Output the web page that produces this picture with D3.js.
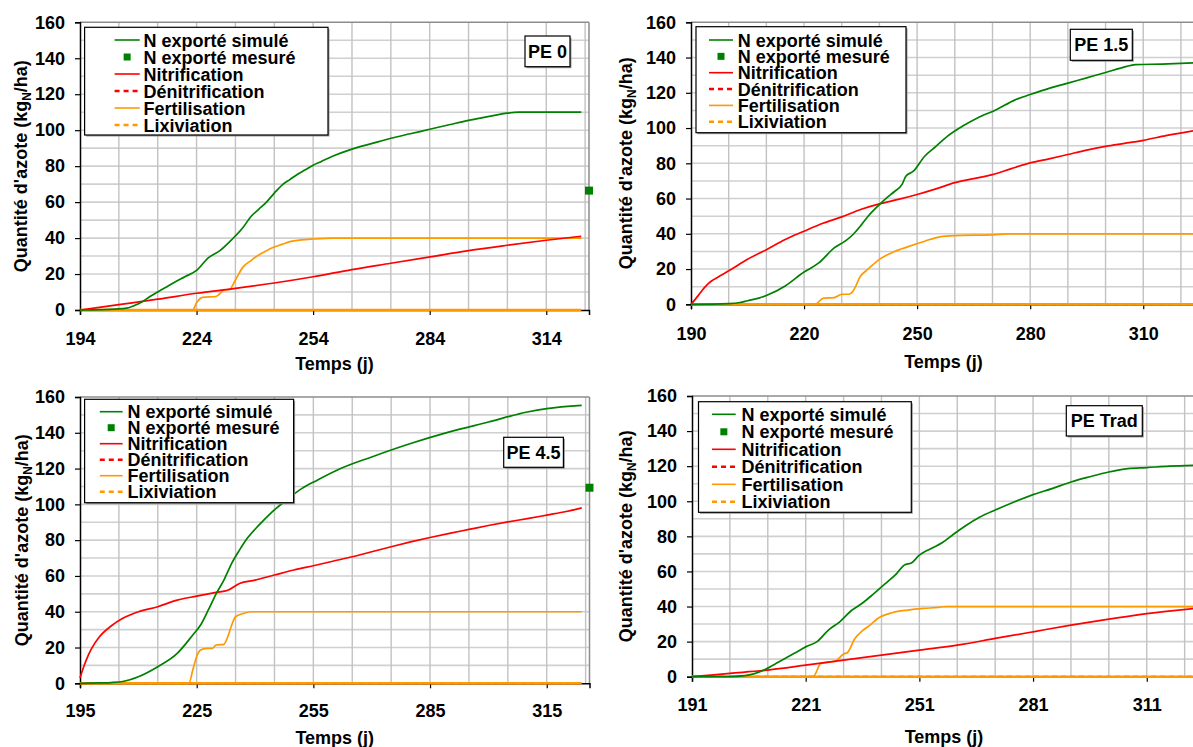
<!DOCTYPE html>
<html><head><meta charset="utf-8">
<script src="https://cdn.jsdelivr.net/npm/d3@7"></script>
<style>
body{margin:0;background:#fff}
svg{display:block}
text{font-family:"Liberation Sans",Arial,sans-serif;font-weight:bold;fill:#000}
</style></head>
<body><svg id="c" width="1193" height="747"></svg>
<script>
// ---------------- DATA ----------------
const panelNames = ["PE 0", "PE 1.5", "PE 4.5", "PE Trad"];
const xDomains = [[194, 325], [190, 324], [195, 326], [191, 324]];
const xTicks = [[194, 224, 254, 284, 314], [190, 220, 250, 280, 310], [195, 225, 255, 285, 315], [191, 221, 251, 281, 311]];
const yTicks = [0, 20, 40, 60, 80, 100, 120, 140, 160];
const legendLabels = ["N exporté simulé", "N exporté mesuré", "Nitrification", "Dénitrification", "Fertilisation", "Lixiviation"];
const yTitle = "Quantité d'azote (kg";
const xTitle = "Temps (j)";

// N exporté simulé [jour, kgN/ha]
const pe0Simule = [[194,0],[200,0.2],[203,0.5],[206,1],[208,2.5],[210,4.6],[212,7.5],[214,10],[216,12.5],[218,15],[221,18.5],[224,22],[227,29],[230,33],[233,39],[236,46],[238,52],[240,56],[242,60],[244,65],[246,69.5],[248,72.5],[250,75.5],[252,78],[254,80.5],[256,82.5],[259,85.5],[264,89.5],[269,92.5],[274,95.5],[279,98],[284,100.5],[289,103],[294,105.5],[299,107.5],[304,109.5],[307,110],[315,110],[323,110]];
const pe15Simule = [[190,0],[200,0.4],[203,1],[205,2],[208,3.5],[210,5],[215,10.4],[220,18.3],[224,23.6],[228,32],[231,36],[233,39.6],[235,44.5],[237,50],[240,56.6],[242,60.5],[244,64],[246,68],[247,72.6],[249,75.5],[252,84],[255,89.6],[258,95.3],[262,101],[266,105.7],[271,110.4],[276,116],[280,119],[285,122.5],[290,125.5],[295,128.5],[300,131.5],[304,134],[308,136],[315,136.3],[324,137]];
const pe45Simule = [[195,0],[200,0.2],[203,0.4],[206,1],[210,3.7],[215,9.3],[220,16.7],[224,27],[226,32.6],[228,41],[230,50],[232,57.7],[234,67],[236,74.4],[238,81],[241,88.4],[244,95],[248,102.3],[252,108.8],[256,113.5],[262,120],[270,126.5],[280,134],[290,140.5],[300,146],[310,151.6],[315,153.5],[324,155.3]];
const peTradSimule = [[191,0],[201,0.1],[205,0.6],[210,3.8],[214,8.5],[218,13.3],[221,17],[224,20],[227,26.6],[230,31.3],[233,37.6],[236,42],[239,47.4],[242,53],[245,58.8],[247,63.6],[249,65],[251,69.3],[254,73],[257,76.3],[260,81.2],[263,85.8],[267,91],[271,95],[276,99.6],[281,103.8],[286,107.2],[291,111],[296,114],[301,116.7],[306,118.6],[311,119.2],[317,120],[324,120.5]];

// N exporté mesuré
const mesureJour = [325, null, 326, null];
const mesureValeur = [66.4, null, 109.3, null];

// Nitrification
const pe0Nitrif = [[194,0],[204,3],[214,6],[224,9.3],[234,12],[244,15],[254,18.5],[264,22.5],[274,26],[284,29.5],[294,33],[304,36],[314,38.8],[323,41]];
const pe15Nitrif = [[190,0],[191,2.5],[192,5.2],[193,8],[194,10.5],[195,12.5],[196,14],[198,16.5],[200,19],[205,25.5],[210,31],[215,36.8],[220,41.5],[225,46],[230,49.6],[235,53.8],[240,57],[245,59.5],[250,62.3],[255,65.5],[260,69],[265,71.3],[270,73.6],[275,77],[280,80.2],[285,82.5],[290,85],[295,87.5],[300,89.6],[305,91.3],[310,93],[316,95.7],[324,98.7]];
const pe45Nitrif = [[195,3],[196,9.5],[197,15],[198,19.5],[200,26],[203,32],[206,36.3],[210,40],[215,42.8],[220,46.5],[225,48.7],[230,50.8],[233,52],[236,55.8],[240,57.7],[245,60.5],[250,63.3],[255,65.7],[260,68.2],[265,70.7],[270,73.5],[275,76.3],[280,79],[285,81.5],[290,83.8],[295,86],[300,88.2],[305,90.2],[310,92],[315,94],[320,96],[324,98]];
const peTradNitrif = [[191,0],[201,1.9],[211,3.8],[221,6.6],[231,9.5],[241,12.3],[251,15.2],[261,18],[271,21.8],[281,25.6],[291,29.4],[301,32.8],[311,36],[324,39]];

// Dénitrification
const pe0Denitrif = [[194,0],[323,0]];
const pe15Denitrif = [[190,0],[324,0]];
const pe45Denitrif = [[195,0],[324,0]];
const peTradDenitrif = [[191,0],[324,0]];

// Fertilisation
const pe0Fertil = [[194,0],[223,0],[224,4],[225.5,7],[229,7.5],[231,11],[232.5,11.5],[234,16.7],[236,24],[238,27.5],[240,30.6],[242,33],[244,35],[246,36.5],[248,38],[251,39],[254,39.5],[259,40],[323,40]];
const pe15Fertil = [[190,0],[223,0],[225,3.4],[228,3.8],[230,5.7],[232,5.7],[233,7.5],[235,16],[237,20],[240,25.5],[242,28],[244,30],[246,31.5],[248,33],[252,35.8],[256,38.3],[260,39],[270,39.4],[274,40],[324,40]];
const pe45Fertil = [[195,0],[223,0],[224,7.4],[225,15],[226,18.6],[227.5,19.5],[229,19.5],[230,21.4],[232,21.8],[233,26],[234,32.6],[235,37.2],[237,39],[239,40],[324,40]];
const peTradFertil = [[191,0],[223,0],[225,7.6],[228,8.5],[229,9],[231,13],[232,13.7],[234,21.8],[236,26.2],[238,29.4],[240,33.2],[244,36.6],[248,38],[252,38.9],[256,39.5],[258,40],[324,40]];

// Lixiviation
const pe0Lixiv = [[194,0],[323,0]];
const pe15Lixiv = [[190,0],[324,0]];
const pe45Lixiv = [[195,0],[324,0]];
const peTradLixiv = [[191,0],[324,0]];

const simule = [pe0Simule, pe15Simule, pe45Simule, peTradSimule];
const nitrif = [pe0Nitrif, pe15Nitrif, pe45Nitrif, peTradNitrif];
const denitrif = [pe0Denitrif, pe15Denitrif, pe45Denitrif, peTradDenitrif];
const fertil = [pe0Fertil, pe15Fertil, pe45Fertil, peTradFertil];
const lixiv = [pe0Lixiv, pe15Lixiv, pe45Lixiv, peTradLixiv];

// ---------------- LAYOUT / STYLE ----------------
const frames = [
  {left:80, right:589, top:22.3, bottom:310, tickPad:17, yTitleX:20.5, xTitleY:363,
   leg:{x:84.6,y:27.3,w:243.4,h:107.7,s0:114.6,s1:139.7,tx:143.5,r0:40,dr:17},
   box:{x:525,y:36,w:45,h:30.7}},
  {left:691, right:1196, top:22.3, bottom:304.3, tickPad:18, yTitleX:625.6, xTitleY:361,
   leg:{x:696,y:26.7,w:210,h:106,s0:709,s1:733,tx:737.7,r0:40,dr:16.35},
   box:{x:1070.3,y:29.3,w:62,h:31}},
  {left:80, right:589.5, top:397, bottom:683.3, tickPad:16, yTitleX:21, xTitleY:737,
   leg:{x:84.6,y:399.3,w:209,h:103.4,s0:99.8,s1:122.6,tx:127.5,r0:411.7,dr:16},
   box:{x:503.7,y:437.3,w:59.7,h:30}},
  {left:692, right:1196, top:396, bottom:676.7, tickPad:17, yTitleX:625.5, xTitleY:736,
   leg:{x:698.5,y:401.7,w:212.8,h:110.6,s0:712,s1:735.7,tx:741.4,r0:414.3,dr:17.5},
   box:{x:1066.3,y:405.7,w:76,h:30.3}}
];
const GREEN = "#008000", RED = "#ff0000", ORANGE = "#ff9900";
const legendStyle = [
  {type:"line", color:GREEN, dash:null, w:1.6},
  {type:"square", color:GREEN},
  {type:"line", color:RED, dash:null, w:1.6},
  {type:"line", color:RED, dash:"5,4", w:2.5},
  {type:"line", color:ORANGE, dash:null, w:1.6},
  {type:"line", color:ORANGE, dash:"5,4", w:2.5}
];

const svg = d3.select("#c");
svg.append("rect").attr("width",1193).attr("height",747).attr("fill","#fff");

frames.forEach((f, i) => {
  const x = d3.scaleLinear().domain(xDomains[i]).range([f.left, f.right]);
  const y = d3.scaleLinear().domain([0, 160]).range([f.bottom, f.top]);
  const g = svg.append("g");

  // grid
  const [d0, d1] = xDomains[i];
  g.selectAll(".hg").data(d3.range(10, 160, 10)).enter().append("line")
    .attr("x1", f.left).attr("x2", f.right).attr("y1", d => y(d)).attr("y2", d => y(d))
    .attr("stroke", "#d0d0d0").attr("stroke-width", 1.6);
  g.selectAll(".vg").data(d3.range(d0 + 10, d1, 10)).enter().append("line")
    .attr("y1", f.top).attr("y2", f.bottom).attr("x1", d => x(d)).attr("x2", d => x(d))
    .attr("stroke", "#c2c2c2").attr("stroke-width", 1.4);
  // top/right border
  g.append("line").attr("x1", f.left).attr("x2", f.right).attr("y1", y(160)).attr("y2", y(160))
    .attr("stroke", "#8c8c8c").attr("stroke-width", 1.5);
  g.append("line").attr("x1", f.right).attr("x2", f.right).attr("y1", f.top).attr("y2", f.bottom)
    .attr("stroke", "#8c8c8c").attr("stroke-width", 1.5);

  // axes
  const ax = d3.axisBottom(x).tickValues(xTicks[i]).tickSize(5).tickPadding(f.tickPad).tickFormat(d3.format("d"));
  const ay = d3.axisLeft(y).tickValues(yTicks).tickSize(5).tickPadding(10).tickFormat(d3.format("d"));
  const gx = g.append("g").attr("transform", `translate(0,${f.bottom})`).call(ax);
  const gy = g.append("g").attr("transform", `translate(${f.left},0)`).call(ay);
  [gx, gy].forEach(a => {
    a.select(".domain").attr("stroke", "#000").attr("stroke-width", 1.5);
    a.selectAll(".tick line").attr("stroke", "#000").attr("stroke-width", 1.2);
    a.selectAll(".tick text").style("font-size", "18px").style("font-weight", "bold")
      .style("font-family", '"Liberation Sans", Arial, sans-serif').attr("fill", "#000");
  });

  // series
  const line = d3.line().x(d => x(d[0])).y(d => y(d[1])).curve(d3.curveMonotoneX);
  g.append("path").datum(denitrif[i]).attr("d", line).attr("fill", "none")
    .attr("stroke", RED).attr("stroke-width", 2).attr("stroke-dasharray", "5,4");
  g.append("path").datum(lixiv[i]).attr("d", line).attr("fill", "none")
    .attr("stroke", ORANGE).attr("stroke-width", 2.6);
  g.append("path").datum(fertil[i]).attr("d", line).attr("fill", "none")
    .attr("stroke", ORANGE).attr("stroke-width", 1.7);
  g.append("path").datum(nitrif[i]).attr("d", line).attr("fill", "none")
    .attr("stroke", RED).attr("stroke-width", 1.7);
  g.append("path").datum(simule[i]).attr("d", line).attr("fill", "none")
    .attr("stroke", GREEN).attr("stroke-width", 1.7);
  if (mesureJour[i] !== null) {
    g.append("rect").attr("x", x(mesureJour[i]) - 4).attr("y", y(mesureValeur[i]) - 4)
      .attr("width", 8).attr("height", 8).attr("fill", GREEN);
  }

  // axis titles
  const yt = g.append("text").attr("transform", `translate(${f.yTitleX + 6.5},${(f.top + f.bottom) / 2}) rotate(-90)`)
    .attr("text-anchor", "middle").style("font-size", "18px");
  yt.append("tspan").text(yTitle);
  yt.append("tspan").text("N").style("font-size", "12px").attr("dy", 4);
  yt.append("tspan").text("/ha)").attr("dy", -4);
  g.append("text").attr("x", (f.left + f.right) / 2).attr("y", f.xTitleY + 6.5)
    .attr("text-anchor", "middle").style("font-size", "18px").text(xTitle);

  // legend
  const L = f.leg;
  g.append("rect").attr("x", L.x + 1.5).attr("y", L.y + 1.5).attr("width", L.w).attr("height", L.h).attr("fill", "#9a9a9a");
  g.append("rect").attr("x", L.x).attr("y", L.y).attr("width", L.w).attr("height", L.h)
    .attr("fill", "#fff").attr("stroke", "#000").attr("stroke-width", 1.2);
  legendLabels.forEach((lab, k) => {
    const yy = L.r0 + k * L.dr;
    const st = legendStyle[k];
    if (st.type === "line") {
      g.append("line").attr("x1", L.s0).attr("x2", L.s1).attr("y1", yy).attr("y2", yy)
        .attr("stroke", st.color).attr("stroke-width", st.w).attr("stroke-dasharray", st.dash);
    } else {
      g.append("rect").attr("x", (L.s0 + L.s1) / 2 - 3.5).attr("y", yy - 3.5).attr("width", 7).attr("height", 7).attr("fill", st.color);
    }
    g.append("text").attr("x", L.tx).attr("y", yy + 6.5).style("font-size", "18px").text(lab);
  });

  // panel label
  const B = f.box;
  g.append("rect").attr("x", B.x + 1.5).attr("y", B.y + 1.5).attr("width", B.w).attr("height", B.h).attr("fill", "#9a9a9a");
  g.append("rect").attr("x", B.x).attr("y", B.y).attr("width", B.w).attr("height", B.h)
    .attr("fill", "#fff").attr("stroke", "#000").attr("stroke-width", 1.2);
  g.append("text").attr("x", B.x + B.w / 2).attr("y", B.y + B.h / 2 + 6.5).attr("text-anchor", "middle")
    .style("font-size", "18px").text(panelNames[i]);
});
</script></body></html>
